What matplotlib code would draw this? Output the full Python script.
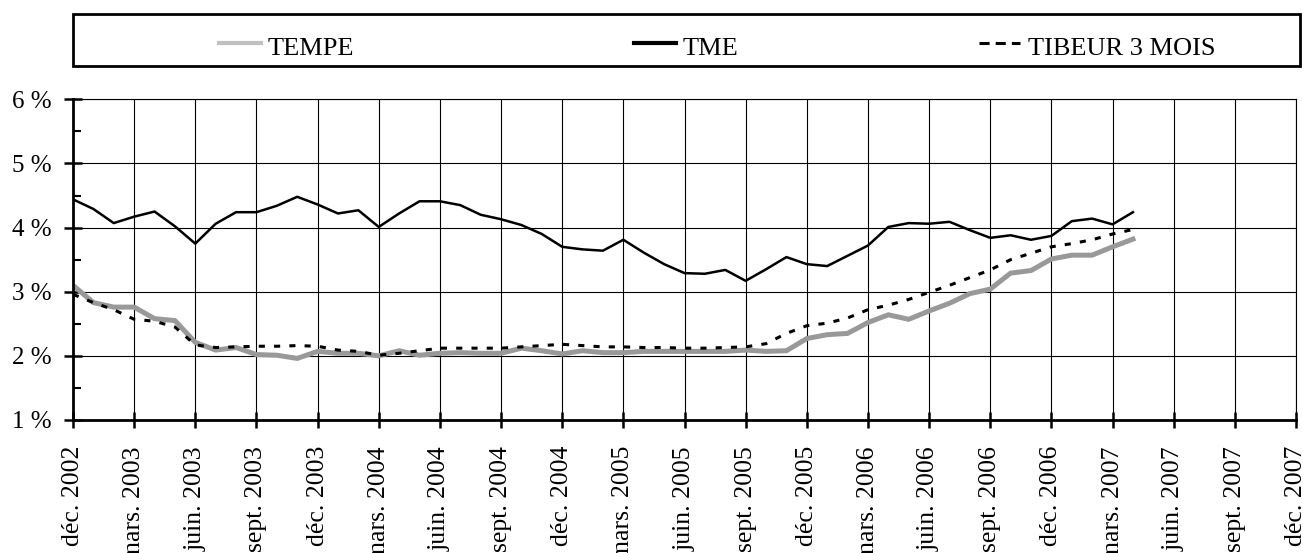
import matplotlib
matplotlib.use("Agg")
import matplotlib.pyplot as plt
from matplotlib.lines import Line2D
from matplotlib.patches import Rectangle
from matplotlib.ticker import MultipleLocator

plt.rcParams['font.family'] = ['Liberation Serif', 'DejaVu Serif']

# ---- data (monthly, index 0 = déc. 2002) ----
tick_labels = ["déc. 2002", "mars. 2003", "juin. 2003", "sept. 2003",
               "déc. 2003", "mars. 2004", "juin. 2004", "sept. 2004",
               "déc. 2004", "mars. 2005", "juin. 2005", "sept. 2005",
               "déc. 2005", "mars. 2006", "juin. 2006", "sept. 2006",
               "déc. 2006", "mars. 2007", "juin. 2007", "sept. 2007",
               "déc. 2007"]

tme = [4.44, 4.29, 4.07, 4.17, 4.25, 4.02, 3.75, 4.06, 4.24, 4.24, 4.34, 4.48,
       4.36, 4.22, 4.27, 4.01, 4.22, 4.41, 4.41, 4.35, 4.20, 4.13, 4.04, 3.90,
       3.70, 3.66, 3.64, 3.81, 3.61, 3.43, 3.29, 3.28, 3.34, 3.17, 3.35, 3.54,
       3.43, 3.40, 3.56, 3.72, 4.01, 4.07, 4.06, 4.09, 3.96, 3.84, 3.88, 3.81,
       3.87, 4.10, 4.14, 4.05, 4.24]

tempe = [3.10, 2.83, 2.76, 2.76, 2.58, 2.55, 2.21, 2.09, 2.13, 2.02, 2.01, 1.96,
         2.07, 2.04, 2.04, 2.00, 2.08, 2.01, 2.04, 2.05, 2.04, 2.04, 2.12, 2.08,
         2.03, 2.08, 2.05, 2.05, 2.07, 2.07, 2.07, 2.07, 2.07, 2.09, 2.07, 2.08,
         2.27, 2.33, 2.35, 2.52, 2.64, 2.57, 2.70, 2.82, 2.97, 3.04, 3.29, 3.33,
         3.51, 3.57, 3.57, 3.70, 3.82]

tibeur = [2.96, 2.83, 2.72, 2.57, 2.54, 2.45, 2.17, 2.13, 2.14, 2.15, 2.15, 2.16,
          2.15, 2.09, 2.07, 2.01, 2.04, 2.08, 2.12, 2.12, 2.12, 2.12, 2.14, 2.16,
          2.18, 2.16, 2.14, 2.14, 2.13, 2.13, 2.12, 2.12, 2.13, 2.14, 2.19, 2.35,
          2.47, 2.51, 2.59, 2.72, 2.79, 2.88, 2.99, 3.10, 3.22, 3.34, 3.50, 3.60,
          3.70, 3.75, 3.81, 3.90, 3.97]

months = list(range(len(tme)))
tick_pos = [3 * i for i in range(len(tick_labels))]
y_ticks = [1, 2, 3, 4, 5, 6]
y_labels = [f"{v} %" for v in y_ticks]
legend_names = ["TEMPE", "TME", "TIBEUR 3 MOIS"]

W, H = 1303, 553
fig = plt.figure(figsize=(W / 100, H / 100), dpi=100)

def fx(x):
    return x / W

def fy(y):
    return 1 - y / H

left, right, top, bottom = 73, 1296, 99.3, 420
ax = fig.add_axes([fx(left), fy(bottom), fx(right - left), (bottom - top) / H])

ax.plot(months, tempe, color="#999999", lw=3.6, solid_joinstyle="miter", zorder=3)
ax.plot(months, tme, color="black", lw=1.8, zorder=4)
ax.plot(months, tibeur, color="black", lw=2.2, linestyle=(0, (2.0, 3.0)),
        dash_capstyle="butt", zorder=5)

ax.set_xlim(tick_pos[0], tick_pos[-1])
ax.set_ylim(1, 6)
ax.set_xticks(tick_pos)
ax.set_xticklabels(tick_labels, rotation=90, fontsize=18.5, va="top", ha="center")
ax.set_yticks(y_ticks)
ax.set_yticklabels(y_labels, fontsize=18)
ax.yaxis.set_minor_locator(MultipleLocator(0.5))

ax.grid(True, which="major", color="black", lw=0.8)
ax.set_axisbelow(True)

for s in ["top", "right"]:
    ax.spines[s].set_visible(False)
for s in ["left", "bottom"]:
    ax.spines[s].set_linewidth(2.0)
    ax.spines[s].set_zorder(6)

ax.tick_params(axis="x", which="major", direction="inout", length=11.5, width=1.8, pad=13)
ax.tick_params(axis="y", which="major", direction="inout", length=12.5, width=1.8, pad=9)
ax.tick_params(axis="y", which="minor", direction="in", length=6, width=1.5)

# top and right borders drawn as grid-like lines
ax.axhline(6, color="black", lw=0.8, clip_on=False)
ax.axvline(tick_pos[-1], color="black", lw=0.8, clip_on=False)

# ---- legend box ----
box_l, box_r, box_t, box_b = 72.7, 1300, 14, 65.7
fig.add_artist(Rectangle((fx(box_l), fy(box_b)), fx(box_r - box_l), (box_b - box_t) / H,
                         transform=fig.transFigure, fill=False, lw=2.0, ec="black"))
hy = fy(42.5)
ty = fy(55)
entries = [
    (219, 261, 268, dict(color="#c0c0c0", lw=3.0)),
    (634, 676, 683, dict(color="black", lw=3.0)),
    (979, 1020, 1028, dict(color="black", lw=2.2, linestyle=(0, (3.3, 2.0)),
                           dash_capstyle="butt")),
]
for name, (x0, x1, xt, st) in zip(legend_names, entries):
    fig.add_artist(Line2D([fx(x0), fx(x1)], [hy, hy], transform=fig.transFigure, **st))
    fig.text(fx(xt), ty, name, fontsize=19, ha="left", va="baseline")

fig.savefig("out.png", dpi=100)
